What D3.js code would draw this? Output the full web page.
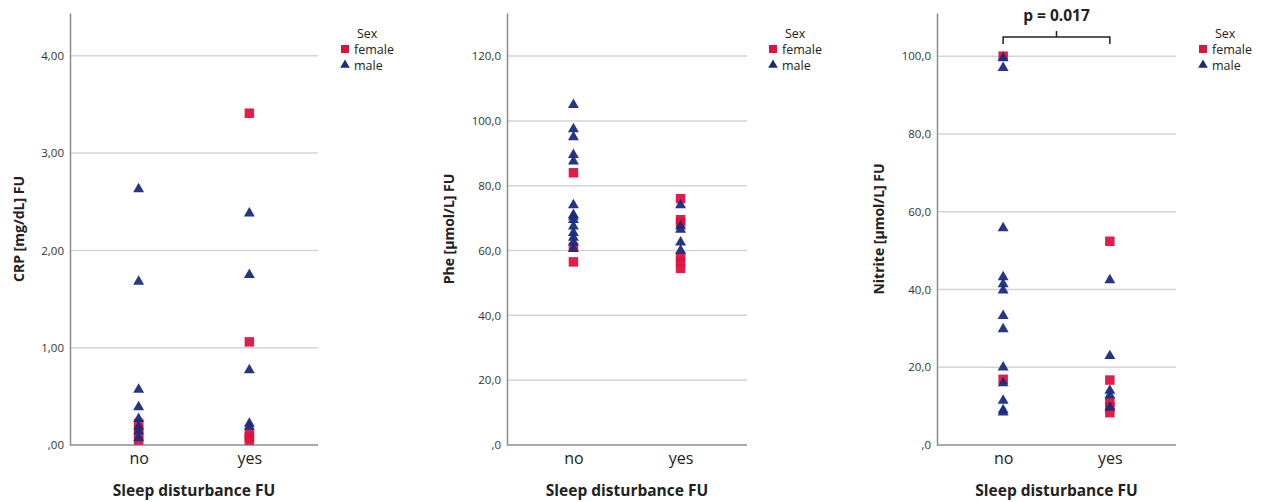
<!DOCTYPE html>
<html>
<head>
  <meta charset="UTF-8">
  <script src="https://d3js.org/d3.v7.js"></script>
  <style>
    body { margin: 0; background: #fff; }
    text { font-family: "Open Sans", sans-serif; }
  </style>
</head>
<body>
  <div id="chart"></div>

  <script>
    // data

    const groups = ["no", "yes"];
    const sexes = ["female", "male"];

    const crpNoFemale = [0.22, 0.16, 0.10, 0.05];
    const crpNoMale = [2.63, 1.68, 0.57, 0.39, 0.27, 0.19, 0.14, 0.07];
    const crpYesFemale = [3.41, 1.06, 0.12, 0.08, 0.05];
    const crpYesMale = [2.38, 1.75, 0.77, 0.22, 0.19];

    const pheNoFemale = [84, 61, 56.5];
    const pheNoMale = [105, 97.5, 95, 89.5, 87.5, 74, 71, 70.5, 69.5, 67.5, 65.5, 64, 62.5, 60.5];
    const pheYesFemale = [76, 69.5, 68.5, 58, 56.5, 54.5];
    const pheYesMale = [74, 67.5, 66.5, 62.5, 60];

    const nitNoFemale = [100, 16.9];
    const nitNoMale = [99.5, 97, 55.8, 43.2, 41.4, 39.8, 33.2, 29.8, 20, 15.9, 11.4, 9, 8.4];
    const nitYesFemale = [52.4, 16.7, 11, 9.8, 8.3];
    const nitYesMale = [42.4, 22.9, 14, 12.8, 9.7];

    const crpTicks = [0, 1, 2, 3, 4];
    const pheTicks = [0, 20, 40, 60, 80, 100, 120];
    const nitTicks = [0, 20, 40, 60, 80, 100];

    const xTitle = "Sleep disturbance FU";
    const legendTitle = "Sex";
    const pLabel = "p = 0.017";

    // build point list from the arrays
    function points(noF, noM, yesF, yesM) {
      const out = [];
      noF.forEach(v => out.push({ g: "no", sex: "female", v }));
      yesF.forEach(v => out.push({ g: "yes", sex: "female", v }));
      noM.forEach(v => out.push({ g: "no", sex: "male", v }));
      yesM.forEach(v => out.push({ g: "yes", sex: "male", v }));
      return out;
    }

    const panels = [
      { axisX: 70, axisRight: 318, yMax: 4.44, ticks: crpTicks, fmt: d => d === 0 ? ",00" : d3.format(".2f")(d).replace(".", ","),
        title: "CRP [mg/dL] FU", titleX: 20, legendX: 345, data: points(crpNoFemale, crpNoMale, crpYesFemale, crpYesMale) },
      { axisX: 507, axisRight: 747, yMax: 133.3, ticks: pheTicks, fmt: d => d === 0 ? ",0" : d3.format(".1f")(d).replace(".", ","),
        title: "Phe [µmol/L] FU", titleX: 450, legendX: 773, data: points(pheNoFemale, pheNoMale, pheYesFemale, pheYesMale) },
      { axisX: 937, axisRight: 1176, yMax: 111.1, ticks: nitTicks, fmt: d => d === 0 ? ",0" : d3.format(".1f")(d).replace(".", ","),
        title: "Nitrite [µmol/L] FU", titleX: 880, legendX: 1203, data: points(nitNoFemale, nitNoMale, nitYesFemale, nitYesMale), bracket: true }
    ];

    // set up

    const W = 1262, H = 502;
    const plotTop = 13, plotBottom = 445;

    const svg = d3.select('#chart')
      .append('svg')
        .attr('width', W)
        .attr('height', H);

    const color = d3.scaleOrdinal().domain(sexes).range(["#e0113f", "#1a2b7c"]);
    const shape = d3.scaleOrdinal().domain(sexes).range([d3.symbolSquare, d3.symbolTriangle]);

    panels.forEach(p => {
      const g = svg.append('g');

      const x = d3.scalePoint()
          .domain(groups)
          .range([p.axisX, p.axisRight])
          .padding(0.62);

      const y = d3.scaleLinear()
          .domain([0, p.yMax])
          .range([plotBottom, plotTop]);

      // gridlines
      g.append('g')
        .selectAll('line')
        .data(p.ticks.filter(d => d > 0))
        .join('line')
          .attr('x1', p.axisX)
          .attr('x2', p.axisRight)
          .attr('y1', d => y(d))
          .attr('y2', d => y(d))
          .attr('stroke', '#d4d4d4')
          .attr('stroke-width', 1.5);

      // y axis
      g.append('g')
        .attr('transform', `translate(${p.axisX},0)`)
        .call(d3.axisLeft(y).tickValues(p.ticks).tickFormat(p.fmt).tickSize(0).tickPadding(6))
        .call(a => a.select('.domain').attr('stroke', '#8c8c8c').attr('stroke-width', 1.5))
        .call(a => a.selectAll('text').attr('font-size', 11.5).attr('fill', '#333').attr('font-family', '"Open Sans", sans-serif'));

      // x axis
      g.append('g')
        .attr('transform', `translate(0,${plotBottom})`)
        .call(d3.axisBottom(x).tickSize(0).tickPadding(8))
        .call(a => a.select('.domain').attr('d', `M${p.axisX},0H${p.axisRight}`).attr('stroke', '#8c8c8c').attr('stroke-width', 1.5))
        .call(a => a.selectAll('text').attr('font-size', 16).attr('fill', '#222').attr('font-family', '"Open Sans", sans-serif'));

      // axis titles
      g.append('text')
        .attr('transform', `translate(${p.titleX},229) rotate(-90)`)
        .attr('text-anchor', 'middle')
        .attr('dominant-baseline', 'middle')
        .attr('font-size', 14)
        .attr('font-weight', 'bold')
        .attr('fill', '#222')
        .text(p.title);

      g.append('text')
        .attr('x', (p.axisX + p.axisRight) / 2)
        .attr('y', 496)
        .attr('text-anchor', 'middle')
        .attr('font-size', 15.5)
        .attr('font-weight', 'bold')
        .attr('fill', '#222')
        .text(xTitle);

      // points
      g.append('g')
        .selectAll('path')
        .data(p.data)
        .join('path')
          .attr('transform', d => `translate(${x(d.g)},${y(d.v)})`)
          .attr('d', d => d3.symbol().type(shape(d.sex)).size(d.sex === 'female' ? 90 : 52)())
          .attr('fill', d => color(d.sex))
          .attr('fill-opacity', 0.95);

      // legend
      const lg = g.append('g').attr('transform', `translate(${p.legendX},0)`);
      lg.append('text')
        .attr('x', 12).attr('y', 38)
        .attr('font-size', 12.5).attr('fill', '#222')
        .text(legendTitle);
      sexes.forEach((s, i) => {
        const yy = 49 + i * 16;
        lg.append('path')
          .attr('transform', `translate(0,${yy})`)
          .attr('d', d3.symbol().type(shape(s)).size(s === 'female' ? 64 : 40)())
          .attr('fill', color(s));
        lg.append('text')
          .attr('x', 9).attr('y', yy + 4.5)
          .attr('font-size', 12.5).attr('fill', '#222')
          .text(s);
      });

      // significance bracket
      if (p.bracket) {
        const x0 = x("no"), x1 = x("yes"), xm = (x0 + x1) / 2;
        g.append('path')
          .attr('d', `M${x0},44V37H${x1}V44M${xm},37V31`)
          .attr('fill', 'none')
          .attr('stroke', '#222')
          .attr('stroke-width', 1.5);
        g.append('text')
          .attr('x', xm).attr('y', 21)
          .attr('text-anchor', 'middle')
          .attr('font-size', 15.5)
          .attr('font-weight', 'bold')
          .attr('fill', '#222')
          .text(pLabel);
      }
    });
  </script>
</body>
</html>
